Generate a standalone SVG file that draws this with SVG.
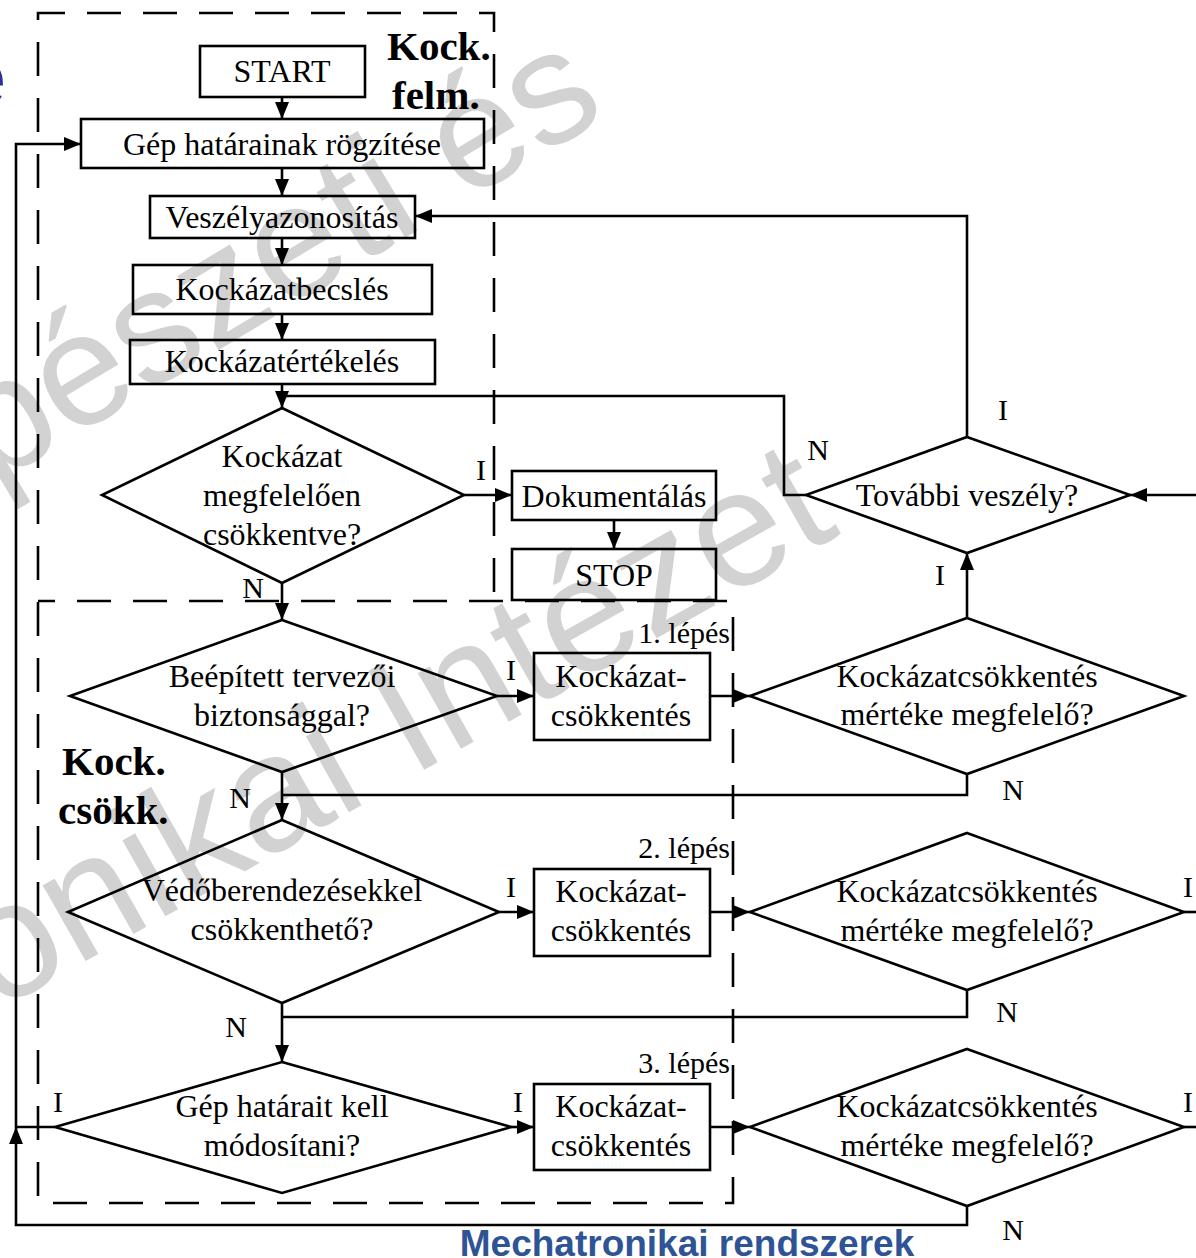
<svg xmlns="http://www.w3.org/2000/svg" width="1196" height="1258" viewBox="0 0 1196 1258">
<defs>
<style>
.shape{fill:none;stroke:#000;stroke-width:2.6}
.con{fill:none;stroke:#000;stroke-width:2.6}
.dash{fill:none;stroke:#000;stroke-width:2.6;stroke-dasharray:34 22}
.t{font-family:"Liberation Serif","Times New Roman",serif;font-size:32px;text-anchor:middle;fill:#000}
.lbl{font-family:"Liberation Serif","Times New Roman",serif;font-size:30px;text-anchor:middle;fill:#000}
.step{font-family:"Liberation Serif","Times New Roman",serif;font-size:30px;text-anchor:end;fill:#000}
.bold{font-family:"Liberation Serif","Times New Roman",serif;font-size:41px;font-weight:bold;fill:#000}
.wm{font-family:"Liberation Sans",Arial,sans-serif;font-size:160px;fill:#d2d2d2}
</style>
<marker id="arr" markerUnits="userSpaceOnUse" markerWidth="18" markerHeight="14" refX="17" refY="7" orient="auto">
<path d="M0,0 L17,7 L0,14 Z" fill="#000"/>
</marker>
</defs>
<rect width="1196" height="1258" fill="#fff"/>

<g id="watermark">
<text class="wm" transform="translate(-8,486) rotate(-31)">pészeti és</text>
<text class="wm" font-size="165" transform="translate(-4,1012) rotate(-29.5)" style="font-size:165px">onikai Intézet</text>
<text x="-38" y="105" font-family="Liberation Sans,Arial,sans-serif" font-size="80" fill="#2e2e9e">e</text>
</g>

<g id="regions">
<path class="dash" d="M494,592 L494,13 L38,13 L38,1203 L733,1203 L733,601 L38,601"/>
<text class="bold" x="387" y="60">Kock.</text>
<text class="bold" x="392" y="109">felm.</text>
<text class="bold" x="62" y="775">Kock.</text>
<text class="bold" x="58" y="824">csökk.</text>
</g>

<g id="connectors">
<path class="con" d="M282,97 V119" marker-end="url(#arr)"/>
<path class="con" d="M282,168 V196" marker-end="url(#arr)"/>
<path class="con" d="M282,238 V265" marker-end="url(#arr)"/>
<path class="con" d="M282,314 V340" marker-end="url(#arr)"/>
<path class="con" d="M282,384 V408" marker-end="url(#arr)"/>
<path class="con" d="M464,495 H512" marker-end="url(#arr)"/>
<path class="con" d="M614,520 V549" marker-end="url(#arr)"/>
<path class="con" d="M282,583 V620" marker-end="url(#arr)"/>
<path class="con" d="M497,696 H534" marker-end="url(#arr)"/>
<path class="con" d="M710,696 H750" marker-end="url(#arr)"/>
<path class="con" d="M967,618 V553" marker-end="url(#arr)"/>
<path class="con" d="M967,437 V216 H415" marker-end="url(#arr)"/>
<path class="con" d="M806,495 H784 V396 H282"/>
<path class="con" d="M1196,495 H1130" marker-end="url(#arr)"/>
<path class="con" d="M967,774 V795 H282"/>
<path class="con" d="M282,772 V820" marker-end="url(#arr)"/>
<path class="con" d="M499,912 H534" marker-end="url(#arr)"/>
<path class="con" d="M710,912 H750" marker-end="url(#arr)"/>
<path class="con" d="M1184,912 H1196"/>
<path class="con" d="M967,990 V1017 H282"/>
<path class="con" d="M282,1003 V1062" marker-end="url(#arr)"/>
<path class="con" d="M511,1127 H534" marker-end="url(#arr)"/>
<path class="con" d="M710,1127 H750" marker-end="url(#arr)"/>
<path class="con" d="M1184,1127 H1196"/>
<path class="con" d="M967,1206 V1225 H16 V1127" marker-end="url(#arr)"/>
<path class="con" d="M16,1127 V144 H81" marker-end="url(#arr)"/>
<path class="con" d="M55,1127 H16"/>
<text class="lbl" x="481" y="480">I</text>
<text class="lbl" x="253" y="598">N</text>
<text class="lbl" x="818" y="460">N</text>
<text class="lbl" x="1003" y="420">I</text>
<text class="lbl" x="940" y="585">I</text>
<text class="lbl" x="511" y="680">I</text>
<text class="lbl" x="1013" y="800">N</text>
<text class="lbl" x="240" y="808">N</text>
<text class="lbl" x="511" y="897">I</text>
<text class="lbl" x="1188" y="897">I</text>
<text class="lbl" x="1007" y="1022">N</text>
<text class="lbl" x="236" y="1037">N</text>
<text class="lbl" x="58" y="1112">I</text>
<text class="lbl" x="518" y="1112">I</text>
<text class="lbl" x="1188" y="1112">I</text>
<text class="lbl" x="1013" y="1240">N</text>
<text class="step" x="730" y="643">1. lépés</text>
<text class="step" x="730" y="858">2. lépés</text>
<text class="step" x="730" y="1073">3. lépés</text>
</g>

<g id="start"><rect class="shape" x="200" y="46" width="165" height="51"/><text class="t" x="282" y="82">START</text></g>
<g id="gep-hatarai"><rect class="shape" x="81" y="119" width="403" height="49"/><text class="t" x="282" y="155">Gép határainak rögzítése</text></g>
<g id="veszelyazonositas"><rect class="shape" x="150" y="196" width="265" height="42"/><text class="t" x="282" y="228">Veszélyazonosítás</text></g>
<g id="kockazatbecsles"><rect class="shape" x="133" y="265" width="299" height="49"/><text class="t" x="282" y="300">Kockázatbecslés</text></g>
<g id="kockazatertekeles"><rect class="shape" x="130" y="340" width="305" height="44"/><text class="t" x="282" y="372">Kockázatértékelés</text></g>
<g id="d-megfeleloen"><polygon class="shape" points="282,408 464,495 282,583 102,495"/><text class="t" x="282" y="467">Kockázat</text><text class="t" x="282" y="506">megfelelően</text><text class="t" x="282" y="545">csökkentve?</text></g>
<g id="dokumentalas"><rect class="shape" x="512" y="471" width="204" height="49"/><text class="t" x="614" y="507">Dokumentálás</text></g>
<g id="stop"><rect class="shape" x="512" y="549" width="204" height="51"/><text class="t" x="614" y="586">STOP</text></g>
<g id="d-tovabbi"><polygon class="shape" points="967,437 1130,495 967,553 806,495"/><text class="t" x="967" y="506">További veszély?</text></g>
<g id="d-beepitett"><polygon class="shape" points="282,620 497,696 282,772 70,696"/><text class="t" x="282" y="687">Beépített tervezői</text><text class="t" x="282" y="726">biztonsággal?</text></g>
<g id="kcs1"><rect class="shape" x="534" y="653" width="176" height="87"/><text class="t" x="621" y="687">Kockázat-</text><text class="t" x="621" y="726">csökkentés</text></g>
<g id="r1"><polygon class="shape" points="967,618 1184,696 967,774 750,696"/><text class="t" x="967" y="687">Kockázatcsökkentés</text><text class="t" x="967" y="725">mértéke megfelelő?</text></g>
<g id="d-vedo"><polygon class="shape" points="282,820 499,912 282,1003 68,912"/><text class="t" x="282" y="901">Védőberendezésekkel</text><text class="t" x="282" y="940">csökkenthető?</text></g>
<g id="kcs2"><rect class="shape" x="534" y="869" width="176" height="87"/><text class="t" x="621" y="902">Kockázat-</text><text class="t" x="621" y="941">csökkentés</text></g>
<g id="r2"><polygon class="shape" points="967,833 1184,912 967,990 750,912"/><text class="t" x="967" y="902">Kockázatcsökkentés</text><text class="t" x="967" y="941">mértéke megfelelő?</text></g>
<g id="d-gephatarai"><polygon class="shape" points="282,1062 511,1127 282,1193 55,1127"/><text class="t" x="282" y="1117">Gép határait kell</text><text class="t" x="282" y="1156">módosítani?</text></g>
<g id="kcs3"><rect class="shape" x="534" y="1084" width="176" height="86"/><text class="t" x="621" y="1117">Kockázat-</text><text class="t" x="621" y="1156">csökkentés</text></g>
<g id="r3"><polygon class="shape" points="967,1049 1184,1127 967,1206 750,1127"/><text class="t" x="967" y="1117">Kockázatcsökkentés</text><text class="t" x="967" y="1156">mértéke megfelelő?</text></g>

<text x="687" y="1256" font-family="Liberation Sans,Arial,sans-serif" font-size="37" font-weight="bold" text-anchor="middle" fill="#2e5496">Mechatronikai rendszerek</text>
</svg>
